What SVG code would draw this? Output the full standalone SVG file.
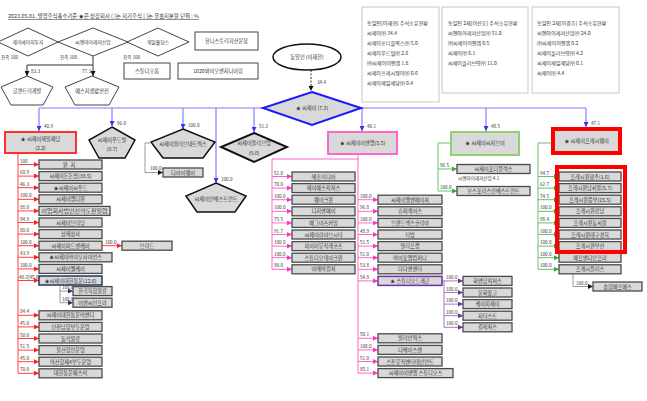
<svg xmlns="http://www.w3.org/2000/svg" width="647" height="401" viewBox="0 0 647 401">
<defs>
<style>
text{font-family:"Noto Sans CJK KR","Noto Sans",sans-serif;fill:#333}
.t{font-size:5.2px;text-anchor:middle}
.n{font-size:4.6px}
.s{font-size:5.1px}
.bx{fill:#d9d9d9;stroke:#4a4a4a;stroke-width:1.3}
.wb{fill:#fff;stroke:#444;stroke-width:1}
.ib{fill:#fff;stroke:#c8c8c8;stroke-width:1}
.blue{fill:none;stroke:#7f7fff;stroke-width:1.2}
.red{fill:none;stroke:#ff4040;stroke-width:1}
.pink{fill:none;stroke:#ff66cc;stroke-width:1}
.grn{fill:none;stroke:#66c266;stroke-width:1}
.pur{fill:none;stroke:#a07acc;stroke-width:1}
.gry{fill:none;stroke:#999;stroke-width:1}
.blk{fill:none;stroke:#333;stroke-width:1}
</style>
<marker id="aB" markerUnits="userSpaceOnUse" markerWidth="5" markerHeight="5" refX="5" refY="2.5" orient="auto"><path d="M0,0L5,2.5L0,5z" fill="#3333ff"/></marker>
<marker id="aR" markerUnits="userSpaceOnUse" markerWidth="5" markerHeight="5" refX="5" refY="2.5" orient="auto"><path d="M0,0L5,2.5L0,5z" fill="#ff2020"/></marker>
<marker id="aP" markerUnits="userSpaceOnUse" markerWidth="5" markerHeight="5" refX="5" refY="2.5" orient="auto"><path d="M0,0L5,2.5L0,5z" fill="#ff33cc"/></marker>
<marker id="aG" markerUnits="userSpaceOnUse" markerWidth="5" markerHeight="5" refX="5" refY="2.5" orient="auto"><path d="M0,0L5,2.5L0,5z" fill="#33aa33"/></marker>
<marker id="aV" markerUnits="userSpaceOnUse" markerWidth="5" markerHeight="5" refX="5" refY="2.5" orient="auto"><path d="M0,0L5,2.5L0,5z" fill="#7030a0"/></marker>
<marker id="aK" markerUnits="userSpaceOnUse" markerWidth="5" markerHeight="5" refX="5" refY="2.5" orient="auto"><path d="M0,0L5,2.5L0,5z" fill="#111"/></marker>
<marker id="aN" markerUnits="userSpaceOnUse" markerWidth="5" markerHeight="5" refX="5" refY="2.5" orient="auto"><path d="M0,0L5,2.5L0,5z" fill="#1f3864"/></marker>
</defs>
<rect width="647" height="401" fill="#fff"/>

<text x="8" y="18" style="font-size:5.4px" text-decoration="underline">2023.05.01. 발행주식총수기준 ★은 상장회사 ( )는 자기주식 [ ]는 유효지분율 단위 : %</text>

<g id="connectors">
<path class="blk" d="M93,56 V65 M27,65 H93"/>
<path class="blk" d="M27,65 V76" marker-end="url(#aK)"/>
<path class="blk" d="M93,65 V76" marker-end="url(#aK)"/>
<path class="blk" d="M311,70 V91" stroke-dasharray="2,1.5" marker-end="url(#aK)"/>
<path class="blue" d="M39,108 H263 M361,108 H586"/>
<path class="blue" d="M39,108 V131" marker-end="url(#aB)"/>
<path class="blue" d="M112,108 V126" marker-end="url(#aB)"/>
<path class="blue" d="M183,108 V129" marker-end="url(#aB)"/>
<path class="blue" d="M216,108 V183" marker-end="url(#aB)"/>
<path class="blue" d="M254,108 V132" marker-end="url(#aB)"/>
<path class="blue" d="M362,108 V131" marker-end="url(#aB)"/>
<path class="blue" d="M486,108 V131" marker-end="url(#aB)"/>
<path class="blue" d="M586,108 V127" marker-end="url(#aB)"/>
<path class="gry" d="M150,143 H145 V172.5"/>
<path class="gry" d="M145,172.5 H163" marker-end="url(#aK)"/>
<path class="red" d="M18,153 V373.3"/>
<g class="red">
<path d="M18,164.5 H39" marker-end="url(#aR)"/>
<path d="M18,176.1 H39" marker-end="url(#aR)"/>
<path d="M18,187.7 H39" marker-end="url(#aR)"/>
<path d="M18,199.3 H39" marker-end="url(#aR)"/>
<path d="M18,210.9 H39" marker-end="url(#aR)"/>
<path d="M18,222.5 H39" marker-end="url(#aR)"/>
<path d="M18,234.1 H39" marker-end="url(#aR)"/>
<path d="M18,245.7 H39" marker-end="url(#aR)"/>
<path d="M18,257.3 H39" marker-end="url(#aR)"/>
<path d="M18,268.9 H39" marker-end="url(#aR)"/>
<path d="M18,280.5 H39" marker-end="url(#aR)"/>
<path d="M18,315.3 H39" marker-end="url(#aR)"/>
<path d="M18,326.9 H39" marker-end="url(#aR)"/>
<path d="M18,338.5 H39" marker-end="url(#aR)"/>
<path d="M18,350.1 H39" marker-end="url(#aR)"/>
<path d="M18,361.7 H39" marker-end="url(#aR)"/>
<path d="M18,373.3 H39" marker-end="url(#aR)"/>
<path d="M102,245.7 H122" marker-end="url(#aR)"/>
</g>
<path class="gry" d="M60,285 V302.7"/>
<path class="gry" d="M60,291.1 H73" marker-end="url(#aN)"/>
<path class="gry" d="M60,302.7 H73" marker-end="url(#aN)"/>
<path class="pink" d="M358,154 V373.3 M358,159 H272 V269.3"/>
<g class="pink">
<path d="M272,176.5 H292" marker-end="url(#aP)"/>
<path d="M272,188.1 H292" marker-end="url(#aP)"/>
<path d="M272,199.7 H292" marker-end="url(#aP)"/>
<path d="M272,211.3 H292" marker-end="url(#aP)"/>
<path d="M272,222.9 H292" marker-end="url(#aP)"/>
<path d="M272,234.5 H292" marker-end="url(#aP)"/>
<path d="M272,246.1 H292" marker-end="url(#aP)"/>
<path d="M272,257.7 H292" marker-end="url(#aP)"/>
<path d="M272,269.3 H292" marker-end="url(#aP)"/>
<path d="M358,199.7 H378" marker-end="url(#aP)"/>
<path d="M358,211.3 H378" marker-end="url(#aP)"/>
<path d="M358,222.9 H378" marker-end="url(#aP)"/>
<path d="M358,234.5 H378" marker-end="url(#aP)"/>
<path d="M358,246.1 H378" marker-end="url(#aP)"/>
<path d="M358,257.7 H378" marker-end="url(#aP)"/>
<path d="M358,269.3 H378" marker-end="url(#aP)"/>
<path d="M358,280.9 H378" marker-end="url(#aP)"/>
<path d="M358,338.3 H378" marker-end="url(#aP)"/>
<path d="M358,349.9 H378" marker-end="url(#aP)"/>
<path d="M358,361.5 H378" marker-end="url(#aP)"/>
<path d="M358,373.1 H378" marker-end="url(#aP)"/>
</g>
<path class="pur" d="M442,280.9 H444 V327.3"/>
<g class="pur">
<path d="M444,280.9 H463" marker-end="url(#aV)"/>
<path d="M444,292.5 H463" marker-end="url(#aV)"/>
<path d="M444,304.1 H463" marker-end="url(#aV)"/>
<path d="M444,315.7 H463" marker-end="url(#aV)"/>
<path d="M444,327.3 H463" marker-end="url(#aV)"/>
</g>
<path class="grn" d="M451,143 H438 V191"/>
<path class="grn" d="M438,169 H457" marker-end="url(#aG)"/>
<path class="grn" d="M438,191 H457" marker-end="url(#aG)"/>
<path class="grn" d="M553,143 H538 V269.3"/>
<g class="grn">
<path d="M538,176.5 H559" marker-end="url(#aG)"/>
<path d="M538,188.1 H559" marker-end="url(#aG)"/>
<path d="M538,199.7 H559" marker-end="url(#aG)"/>
<path d="M538,211.3 H559" marker-end="url(#aG)"/>
<path d="M538,222.9 H559" marker-end="url(#aG)"/>
<path d="M538,234.5 H559" marker-end="url(#aG)"/>
<path d="M538,246.1 H559" marker-end="url(#aG)"/>
<path d="M538,257.7 H559" marker-end="url(#aG)"/>
<path d="M538,269.3 H559" marker-end="url(#aG)"/>
</g>
<path class="gry" d="M573,274 V286.5"/>
<path class="gry" d="M573,286.5 H593" marker-end="url(#aK)"/>
</g>

<g id="connector-labels">
<text class="n" x="31" y="73">83.3</text>
<text class="n" x="82" y="73">77.3</text>
<text class="n" x="1" y="59">친족 100</text>
<text class="n" x="60" y="59">친족 100</text>
<text class="n" x="123" y="59">친족 100</text>
<text class="n" x="317" y="84">34.4</text>
<text class="n" x="44" y="128">40.9</text>
<text class="n" x="117" y="125">96.0</text>
<text class="n" x="188" y="127">100.0</text>
<text class="n" x="221" y="181">100.0</text>
<text class="n" x="259" y="128">51.2</text>
<text class="n" x="367" y="128">40.1</text>
<text class="n" x="491" y="128">48.5</text>
<text class="n" x="591" y="125">47.1</text>
<text class="n" x="150" y="170">100.0</text>
<text class="n" x="20" y="162.5">100</text>
<text class="n" x="20" y="174.1">60.9</text>
<text class="n" x="20" y="185.7">46.3</text>
<text class="n" x="20" y="197.3">100.0</text>
<text class="n" x="20" y="208.9">88.0</text>
<text class="n" x="20" y="220.5">94.9</text>
<text class="n" x="20" y="232.1">80.0</text>
<text class="n" x="20" y="243.7">100.0</text>
<text class="n" x="20" y="255.3">43.9</text>
<text class="n" x="20" y="266.9">100.0</text>
<text class="n" x="19" y="278.5">40.2[45.8]</text>
<text class="n" x="20" y="313.3">84.4</text>
<text class="n" x="20" y="324.9">45.0</text>
<text class="n" x="20" y="336.5">50.0</text>
<text class="n" x="20" y="348.1">51.5</text>
<text class="n" x="20" y="359.7">45.0</text>
<text class="n" x="20" y="371.3">70.0</text>
<text class="n" x="105" y="243.5">100.0</text>
<text class="n" x="62" y="289">100.0</text>
<text class="n" x="62" y="300.6">100.0</text>
<text class="n" x="274" y="174.5">51.0</text>
<text class="n" x="274" y="186.1">70.0</text>
<text class="n" x="274" y="197.7">100.0</text>
<text class="n" x="274" y="209.3">100.0</text>
<text class="n" x="274" y="220.9">75.5</text>
<text class="n" x="274" y="232.5">91.7</text>
<text class="n" x="274" y="244.1">100.0</text>
<text class="n" x="274" y="255.7">100.0</text>
<text class="n" x="274" y="267.3">90.0</text>
<text class="n" x="360" y="197.7">100.0</text>
<text class="n" x="360" y="209.3">96.8</text>
<text class="n" x="360" y="220.9">100.0</text>
<text class="n" x="360" y="232.5">48.9</text>
<text class="n" x="360" y="244.1">51.5</text>
<text class="n" x="360" y="255.7">51.0</text>
<text class="n" x="360" y="267.3">53.8</text>
<text class="n" x="360" y="278.9">54.8</text>
<text class="n" x="360" y="336.3">50.1</text>
<text class="n" x="360" y="347.9">100.0</text>
<text class="n" x="360" y="359.5">51.0</text>
<text class="n" x="360" y="371.1">85.1</text>
<text class="n" x="446" y="278.9">100.0</text>
<text class="n" x="446" y="290.5">100.0</text>
<text class="n" x="446" y="302.1">100.0</text>
<text class="n" x="446" y="313.7">100.0</text>
<text class="n" x="446" y="325.3">100.0</text>
<text class="n" x="440" y="167">96.5</text>
<text class="n" x="440" y="189">100.0</text>
<text class="n" x="540" y="174.5">94.7</text>
<text class="n" x="540" y="186.1">62.7</text>
<text class="n" x="540" y="197.7">74.5</text>
<text class="n" x="540" y="209.3">100.0</text>
<text class="n" x="540" y="220.9">98.4</text>
<text class="n" x="540" y="232.5">100.0</text>
<text class="n" x="540" y="244.1">100.0</text>
<text class="n" x="540" y="255.7">100.0</text>
<text class="n" x="540" y="267.3">100.0</text>
<text class="n" x="576" y="284.5">100.0</text>
</g>

<g id="jh"><polygon class="wb" points="28,28 58,42 28,56 -2,42"/><text class="t" x="28" y="44" style="font-size:4.8px">제이에이치투자</text></g>
<g id="cni"><polygon class="wb" points="93,28 128,42 93,56 58,42"/><text class="t" x="93" y="44" style="font-size:4.8px">씨앤아이레저산업</text></g>
<g id="jeil"><polygon class="wb" points="158,28 189,42 158,56 127,42"/><text class="t" x="158" y="44" style="font-size:4.8px">제일홀딩스</text></g>
<g id="unistory"><rect class="wb" x="195" y="32" width="63" height="18"/><text class="t" x="226.5" y="43">유니스토리자산운용</text></g>
<g id="studioroom"><rect class="wb" x="124" y="63" width="46" height="16"/><text class="t" x="147" y="73">스튜디오룸</text></g>
<g id="yoeng"><rect class="wb" x="178" y="63" width="80" height="16"/><text class="t" x="218" y="73">1020와이오엔지니어링</text></g>
<g id="glen"><polygon class="wb" points="27,76 53,87 43,105 11,105 1,87"/><text class="t" x="27" y="93">글렌트리개발</text></g>
<g id="sg"><polygon class="wb" points="92,76 119,87 109,105 75,105 65,87"/><text class="t" x="92" y="93">에스지생활안전</text></g>

<g id="owner"><ellipse cx="307" cy="57" rx="34" ry="13" fill="#fff" stroke="#111" stroke-width="1.5"/><text class="t" x="307" y="59">동일인 (이재현)</text></g>

<g id="info1"><rect class="ib" x="362" y="7" width="77" height="95"/>
<text class="s" x="367" y="25">동일인[이재현] 주식소유현황</text>
<text class="s" x="367" y="35">씨제이㈜ 34.4</text>
<text class="s" x="367" y="45">씨제이포디플렉스㈜ 5.0</text>
<text class="s" x="367" y="55">씨제이푸드빌㈜ 2.6</text>
<text class="s" x="367" y="65">㈜씨제이이엔엠 1.8</text>
<text class="s" x="367" y="75">씨제이프레시웨이㈜ 0.6</text>
<text class="s" x="367" y="85">씨제이제일제당㈜ 0.4</text></g>
<g id="info2"><rect class="ib" x="442" y="7" width="86" height="86"/>
<text class="s" x="448" y="25">동일인 2세[이선호] 주식소유현황</text>
<text class="s" x="448" y="35">씨앤아이레저산업㈜ 51.0</text>
<text class="s" x="448" y="45">㈜씨제이이엔엠 0.5</text>
<text class="s" x="448" y="55">씨제이㈜ 6.1</text>
<text class="s" x="448" y="65">씨제이올리브영㈜ 11.0</text></g>
<g id="info3"><rect class="ib" x="532" y="7" width="87" height="86"/>
<text class="s" x="537" y="25">동일인 2세[이경후] 주식소유현황</text>
<text class="s" x="537" y="35">씨앤아이레저산업㈜ 24.0</text>
<text class="s" x="537" y="45">㈜씨제이이엔엠 0.2</text>
<text class="s" x="537" y="55">씨제이올리브영㈜ 4.2</text>
<text class="s" x="537" y="65">씨제이제일제당㈜ 0.1</text>
<text class="s" x="537" y="75">씨제이㈜ 4.4</text></g>

<g id="cj"><polygon points="312,92 361,108 312,125 263,108" fill="#d9d9d9" stroke="#1a1aff" stroke-width="2"/><text class="t" x="312" y="110">★ 씨제이 (7.3)</text></g>

<g id="cjcj"><rect x="5" y="132" width="71" height="21" fill="#d9d9d9" stroke="#ff3030" stroke-width="2"/><text class="t" x="40.5" y="141">★ 씨제이제일제당</text><text class="t" x="40.5" y="150">(2.2)</text></g>
<g id="foodville"><polygon points="112,127 135,140 125,158 99,158 89,140" fill="#d9d9d9" stroke="#111" stroke-width="1.5"/><text class="t" x="112" y="142">씨제이푸드빌</text><text class="t" x="112" y="151">(0.7)</text></g>
<g id="olivenet"><polygon points="183,129 215,142 203,158 163,158 151,142" fill="#d9d9d9" stroke="#111" stroke-width="1.5"/><text class="t" x="183" y="146">씨제이올리브네트웍스</text></g>
<g id="diware"><rect class="bx" x="163" y="168" width="40" height="9"/><text class="t" x="183" y="174.5">디아이웨어</text></g>
<g id="invest"><polygon points="216,183 246,196 235,212 197,212 186,196" fill="#d9d9d9" stroke="#111" stroke-width="1.5"/><text class="t" x="216" y="201">씨제이인베스트먼트</text></g>
<g id="oliveyoung"><polygon points="254,133 287,147 254,162 221,147" fill="#d9d9d9" stroke="#111" stroke-width="2"/><text class="t" x="254" y="145">씨제이올리브영</text><text class="t" x="254" y="155">(0.0)</text></g>
<g id="enm"><rect x="328" y="132" width="69" height="22" fill="#d9d9d9" stroke="#ff66cc" stroke-width="2"/><text class="t" x="362.5" y="145">★ 씨제이이엔엠(5.5)</text></g>
<g id="cgv"><rect x="451" y="132" width="68" height="23" fill="#d9d9d9" stroke="#8fd16c" stroke-width="2"/><text class="t" x="485" y="145">★ 씨제이씨지브이</text></g>
<g id="freshway"><rect x="554" y="130" width="65" height="22" fill="#d9d9d9" stroke="#8fd16c" stroke-width="1"/><rect x="553" y="129" width="67" height="24" fill="none" stroke="#ff0000" stroke-width="4"/><text class="t" x="586.5" y="143">★ 씨제이프레시웨이</text></g>

<g id="wonji"><rect class="bx" x="39" y="160" width="63" height="9"/><text class="t" x="70.5" y="166.5" letter-spacing="3">원지</text></g>
<g id="dondon"><rect class="bx" x="39" y="171.6" width="63" height="9"/><text class="t" x="70.5" y="178.1">씨제이돈돈팜(38.5)</text></g>
<g id="seafood"><rect class="bx" x="39" y="183.2" width="63" height="9"/><text class="t" x="70.5" y="189.7">★씨제이씨푸드</text></g>
<g id="mdone"><rect class="bx" x="39" y="194.8" width="63" height="9"/><text class="t" x="70.5" y="201.3">씨제이엠디원</text></g>
<g id="sinuido"><rect class="bx" x="39" y="206.4" width="71" height="9"/><text class="t" x="74.5" y="212.9" textLength="66" lengthAdjust="spacingAndGlyphs">어업회사법인신의도천일염</text></g>
<g id="breeding"><rect class="bx" x="39" y="218" width="63" height="9"/><text class="t" x="70.5" y="224.5">씨제이브리딩</text></g>
<g id="samhae"><rect class="bx" x="39" y="229.6" width="63" height="9"/><text class="t" x="70.5" y="236.1">삼해상사</text></g>
<g id="feedcare"><rect class="bx" x="39" y="241.2" width="63" height="9"/><text class="t" x="70.5" y="247.7">씨제이피드앤케어</text></g>
<g id="breed"><rect class="bx" x="122" y="241.2" width="50" height="9"/><text class="t" x="147" y="247.7">브리드</text></g>
<g id="bioscience"><rect class="bx" x="39" y="252.8" width="73" height="9"/><text class="t" x="75.5" y="259.3">★씨제이바이오사이언스</text></g>
<g id="wellcare"><rect class="bx" x="39" y="264.4" width="63" height="9"/><text class="t" x="70.5" y="270.9">씨제이웰케어</text></g>
<g id="logistics"><rect x="39" y="276" width="63" height="9" fill="#d9d9d9" stroke="#1f3864" stroke-width="1.5"/><text class="t" x="70.5" y="282.5">★씨제이대한통운(12.6)</text></g>
<g id="kcl"><rect class="bx" x="73" y="286.6" width="39" height="9"/><text class="t" x="92.5" y="293.1">한국복합물류</text></g>
<g id="enc"><rect class="bx" x="73" y="298.2" width="39" height="9"/><text class="t" x="92.5" y="304.7">이앤씨인프라</text></g>
<g id="bnd"><rect class="bx" x="39" y="310.8" width="63" height="9"/><text class="t" x="70.5" y="317.3">씨제이대한통운비엔디</text></g>
<g id="incheon"><rect class="bx" x="39" y="322.4" width="63" height="9"/><text class="t" x="70.5" y="328.9">인천남항부두운영</text></g>
<g id="dongseok"><rect class="bx" x="39" y="334" width="63" height="9"/><text class="t" x="70.5" y="340.5">동석물류</text></g>
<g id="ulsan"><rect class="bx" x="39" y="345.6" width="63" height="9"/><text class="t" x="70.5" y="352.1">울산항만운영</text></g>
<g id="masan"><rect class="bx" x="39" y="357.2" width="63" height="9"/><text class="t" x="70.5" y="363.7">마산항제4부두운영</text></g>
<g id="sb"><rect class="bx" x="39" y="368.8" width="63" height="9"/><text class="t" x="70.5" y="375.3">대한통운에스비</text></g>

<g id="mezzo"><rect class="bx" x="292" y="172" width="63" height="9"/><text class="t" x="323.5" y="178.5">메조미디어</text></g>
<g id="js"><rect class="bx" x="292" y="183.6" width="63" height="9"/><text class="t" x="323.5" y="190.1">제이에스픽쳐스</text></g>
<g id="wakeone"><rect class="bx" x="292" y="195.2" width="63" height="9"/><text class="t" x="323.5" y="201.7">웨이크원</text></g>
<g id="dgna"><rect class="bx" x="292" y="206.8" width="63" height="9"/><text class="t" x="323.5" y="213.3">디지엔에이</text></g>
<g id="egg"><rect class="bx" x="292" y="218.4" width="63" height="9"/><text class="t" x="323.5" y="224.9">에그이즈커밍</text></g>
<g id="livecity"><rect class="bx" x="292" y="230" width="63" height="9"/><text class="t" x="323.5" y="236.5">씨제이라이브시티</text></g>
<g id="higher"><rect class="bx" x="292" y="241.6" width="63" height="9"/><text class="t" x="323.5" y="248.1">하이어뮤직레코즈</text></g>
<g id="takeone"><rect class="bx" x="292" y="253.2" width="63" height="9"/><text class="t" x="323.5" y="259.7">스튜디오테이크원</text></g>
<g id="amoeba"><rect class="bx" x="292" y="264.8" width="63" height="9"/><text class="t" x="323.5" y="271.3">아메바컬쳐</text></g>

<g id="enm1"><rect class="bx" x="378" y="195.2" width="64" height="9"/><text class="t" x="410" y="201.7">씨제이엘엔에이치</text></g>
<g id="superrace"><rect class="bx" x="378" y="206.8" width="64" height="9"/><text class="t" x="410" y="213.3">슈퍼레이스</text></g>
<g id="brandx"><rect class="bx" x="378" y="218.4" width="64" height="9"/><text class="t" x="410" y="224.9">브랜드엑스코리아</text></g>
<g id="tving"><rect class="bx" x="378" y="230" width="64" height="9"/><text class="t" x="410" y="236.5">티빙</text></g>
<g id="belift"><rect class="bx" x="378" y="241.6" width="64" height="9"/><text class="t" x="410" y="248.1">빌리프랩</text></g>
<g id="by4m"><rect class="bx" x="378" y="253.2" width="64" height="9"/><text class="t" x="410" y="259.7">바이포엠컴퍼니</text></g>
<g id="dada"><rect class="bx" x="378" y="264.8" width="64" height="9"/><text class="t" x="410" y="271.3">다다엔엔터</text></g>
<g id="dragon"><rect x="378" y="276.4" width="64" height="9" fill="#d9d9d9" stroke="#7030a0" stroke-width="1.5"/><text class="t" x="410" y="282.9">★ 스튜디오드래곤</text></g>
<g id="billion"><rect class="bx" x="378" y="333.8" width="64" height="9"/><text class="t" x="410" y="340.3">빌리언웍스</text></g>
<g id="dbase"><rect class="bx" x="378" y="345.4" width="64" height="9"/><text class="t" x="410" y="351.9">디베이스앤</text></g>
<g id="stone"><rect class="bx" x="378" y="357" width="64" height="9"/><text class="t" x="410" y="363.5">스톤뮤직엔터테인먼트</text></g>
<g id="enmstudios"><rect class="bx" x="378" y="368.6" width="75" height="9"/><text class="t" x="415.5" y="375.1">씨제이이엔엠 스튜디오스</text></g>

<g id="hwa"><rect class="bx" x="463" y="276.4" width="49" height="9"/><text class="t" x="487.5" y="282.9">화앤담픽쳐스</text></g>
<g id="munhwa"><rect class="bx" x="463" y="288" width="49" height="9"/><text class="t" x="487.5" y="294.5">문화창고</text></g>
<g id="kpj"><rect class="bx" x="463" y="299.6" width="49" height="9"/><text class="t" x="487.5" y="306.1">케이피제이</text></g>
<g id="gtist"><rect class="bx" x="463" y="311.2" width="49" height="9"/><text class="t" x="487.5" y="317.7">지티스트</text></g>
<g id="gil"><rect class="bx" x="463" y="322.8" width="49" height="9"/><text class="t" x="487.5" y="329.3">길픽쳐스</text></g>

<g id="4dplex"><rect class="bx" x="457" y="164.5" width="73" height="9"/><text class="t" x="493.5" y="171">씨제이포디플렉스</text><text class="n" x="458" y="180">씨앤아이레저산업 4.1</text></g>
<g id="bosphorus"><rect class="bx" x="457" y="186.5" width="73" height="9"/><text class="t" x="493.5" y="193">보스포러스인베스트먼트</text></g>

<g id="fw1"><rect class="bx" x="559" y="172" width="62" height="9"/><text class="t" x="590" y="178.5">프레시원광주(1.6)</text></g>
<g id="fw2"><rect class="bx" x="559" y="183.6" width="62" height="9"/><text class="t" x="590" y="190.1">프레시원남서울(5.7)</text></g>
<g id="fw3"><rect class="bx" x="559" y="195.2" width="62" height="9"/><text class="t" x="590" y="201.7">프레시원중부(25.5)</text></g>
<g id="fw4"><rect class="bx" x="559" y="206.8" width="62" height="9"/><text class="t" x="590" y="213.3">프레시원강남</text></g>
<g id="fw5"><rect class="bx" x="559" y="218.4" width="62" height="9"/><text class="t" x="590" y="224.9">프레시원동서울</text></g>
<g id="fw6"><rect class="bx" x="559" y="230" width="62" height="9"/><text class="t" x="590" y="236.5">프레시원대구경북</text></g>
<g id="fw7"><rect class="bx" x="559" y="241.6" width="62" height="9"/><text class="t" x="590" y="248.1">프레시원부산</text></g>
<g id="fnd"><rect class="bx" x="559" y="253.2" width="62" height="9"/><text class="t" x="590" y="259.7">에프앤디인프라</text></g>
<g id="freshplus"><rect class="bx" x="559" y="264.8" width="62" height="9"/><text class="t" x="590" y="271.3">프레시플러스</text></g>
<g id="songrim"><rect class="bx" x="593" y="282" width="49" height="9"/><text class="t" x="617.5" y="288.5">송림에프에스</text></g>
<rect id="highlight" x="557" y="167" width="68" height="85" fill="none" stroke="#ff0000" stroke-width="4"/>
</svg>
